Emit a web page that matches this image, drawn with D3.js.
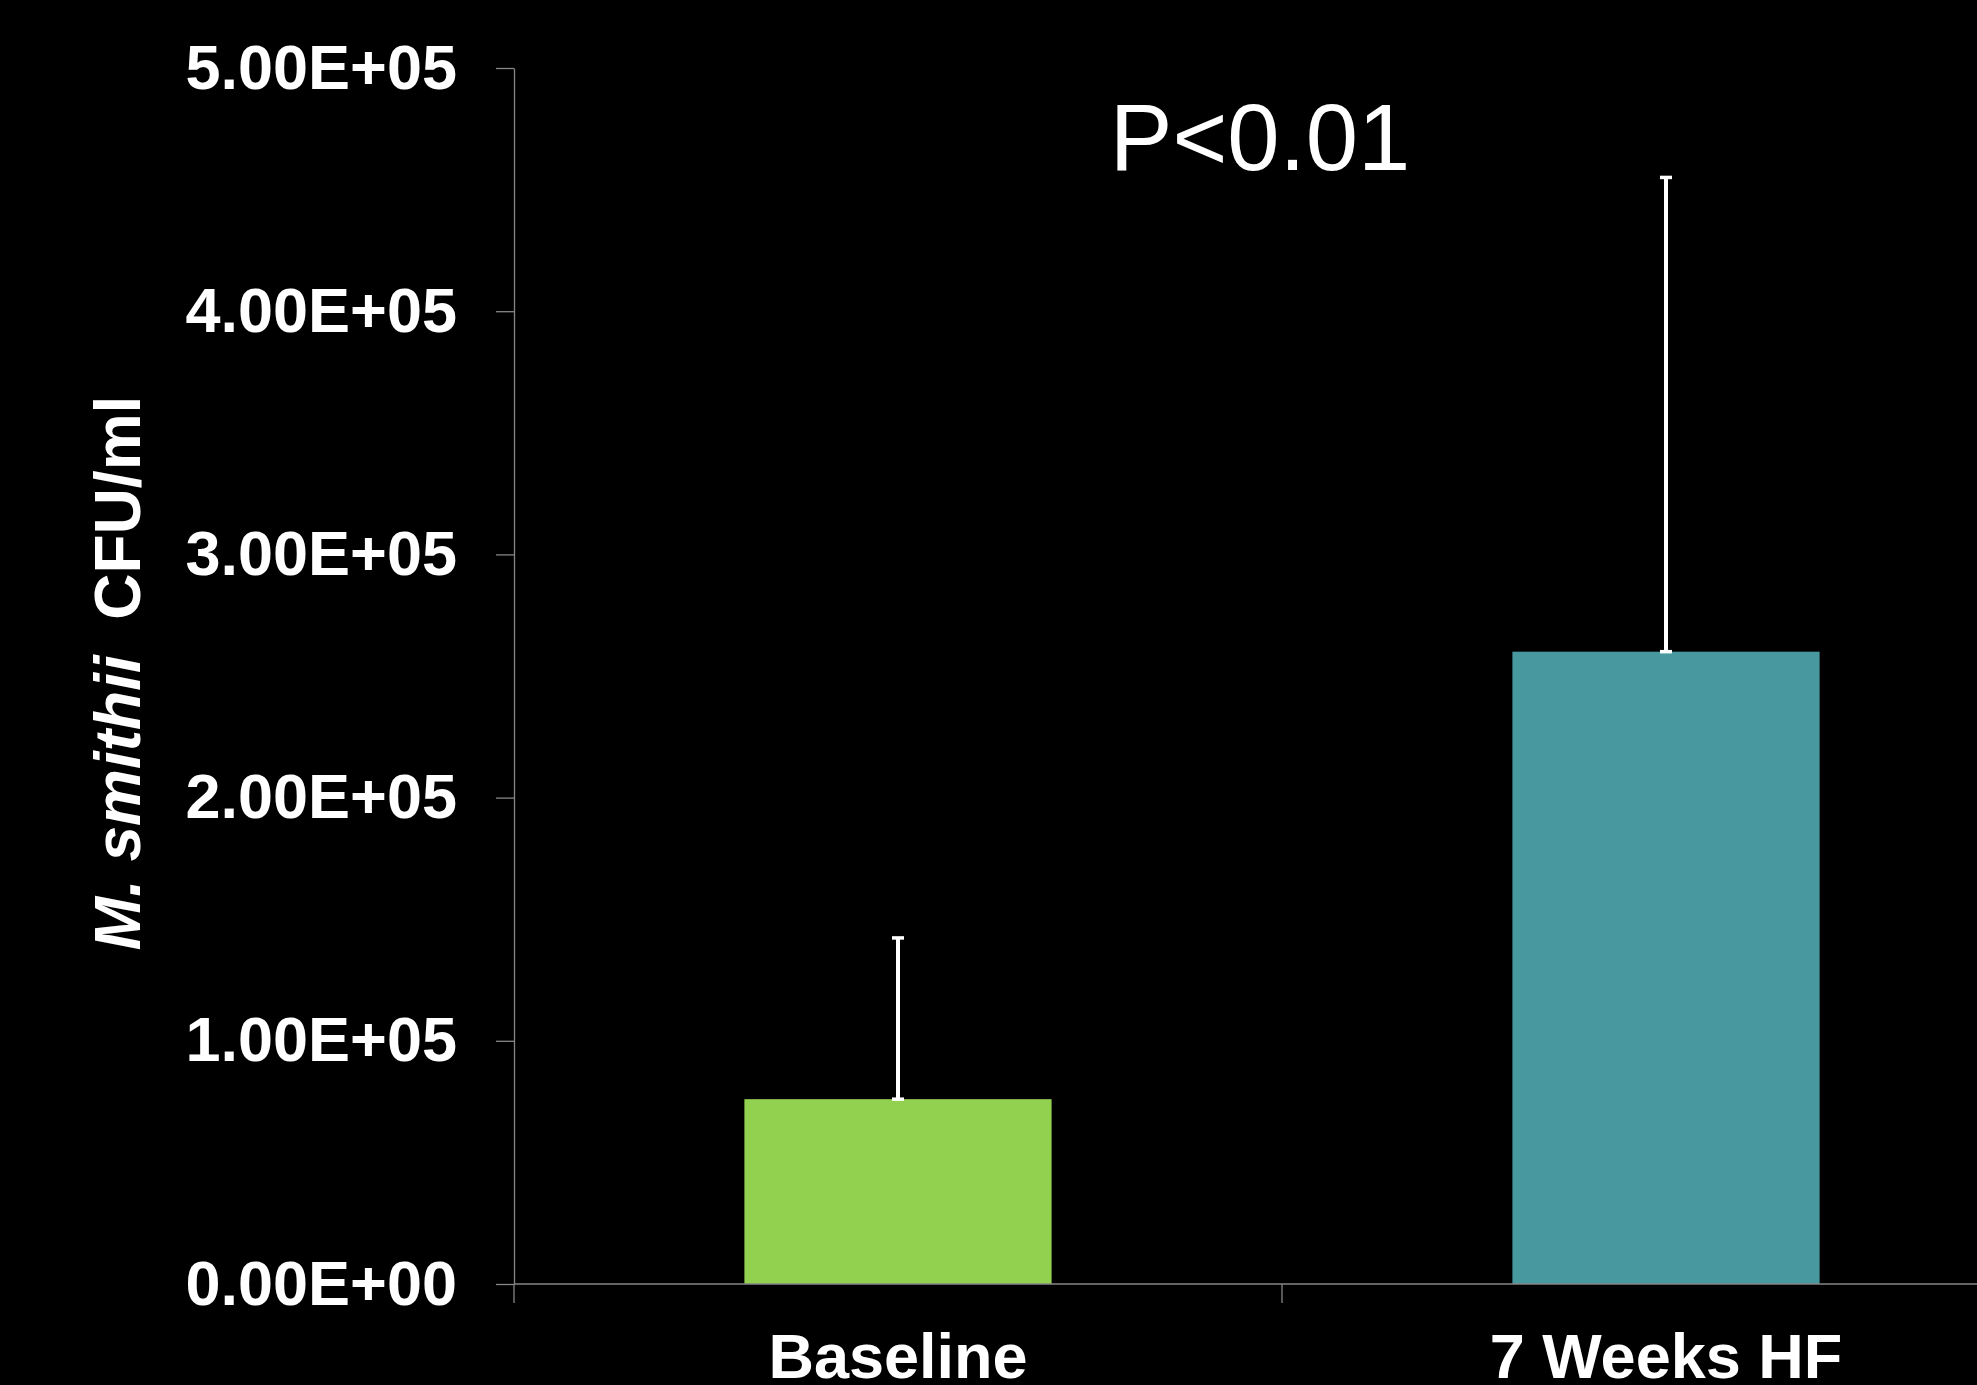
<!DOCTYPE html>
<html>
<head>
<meta charset="utf-8">
<script src="https://cdn.jsdelivr.net/npm/d3@7/dist/d3.min.js"></script>
<style>
  html, body { margin: 0; padding: 0; background: #000; }
  svg { display: block; }
</style>
</head>
<body>
<svg id="chart" width="1977" height="1385"></svg>
<script>
// ---- data ----
const categories = ["Baseline", "7 Weeks HF"];
const means = [76000, 260000];
const errors = [66300, 195000];
const barColors = ["#92D050", "#47999F"];
const yTicks = [0, 100000, 200000, 300000, 400000, 500000];
const yTickLabels = ["0.00E+00", "1.00E+05", "2.00E+05", "3.00E+05", "4.00E+05", "5.00E+05"];
const pLabel = "P<0.01";

// ---- layout ----
const W = 1977, H = 1385;
const plotLeft = 514, plotTop = 68, plotBottom = 1284, plotRight = 2050;
const svg = d3.select("#chart");
svg.append("rect").attr("width", W).attr("height", H).attr("fill", "#000");

const y = d3.scaleLinear().domain([0, 500000]).range([plotBottom, plotTop]);
const x = d3.scaleBand().domain(categories).range([plotLeft, plotRight])
  .paddingInner(0.6).paddingOuter(0.3);

const FONT = "'Liberation Sans', Arial, Helvetica, sans-serif";
const axisColor = "#868686";

// bars
svg.selectAll("rect.bar").data(categories).enter().append("rect")
  .attr("class", "bar")
  .attr("x", d => x(d))
  .attr("width", x.bandwidth())
  .attr("y", (d, i) => y(means[i]))
  .attr("height", (d, i) => y(0) - y(means[i]))
  .attr("fill", (d, i) => barColors[i]);

// error bars (upper only)
const eg = svg.append("g").attr("stroke", "#fff").attr("fill", "none");
categories.forEach((c, i) => {
  const cx = x(c) + x.bandwidth() / 2;
  eg.append("line").attr("x1", cx).attr("x2", cx)
    .attr("y1", y(means[i])).attr("y2", y(means[i] + errors[i]))
    .attr("stroke-width", 4);
  [means[i], means[i] + errors[i]].forEach(v => {
    eg.append("line").attr("x1", cx - 6).attr("x2", cx + 6)
      .attr("y1", y(v)).attr("y2", y(v)).attr("stroke-width", 3.5);
  });
});

// y axis
const yAxis = d3.axisLeft(y)
  .tickValues(yTicks)
  .tickFormat((d, i) => yTickLabels[i])
  .tickSize(18)
  .tickSizeOuter(0)
  .tickPadding(39);
const gy = svg.append("g").attr("transform", `translate(${plotLeft},0)`).call(yAxis);
gy.select(".domain").attr("stroke", axisColor).attr("stroke-width", 1.3);
gy.selectAll(".tick line").attr("stroke", axisColor).attr("stroke-width", 1.3);
gy.selectAll(".tick text")
  .attr("fill", "#fff")
  .attr("font-family", FONT)
  .attr("font-weight", "bold")
  .attr("font-size", 63)
  .attr("dy", "0.32em");

// x axis line and category boundary ticks
svg.append("line").attr("x1", plotLeft).attr("x2", plotRight)
  .attr("y1", y(0)).attr("y2", y(0))
  .attr("stroke", axisColor).attr("stroke-width", 1.3);
d3.range(categories.length + 1).forEach(k => {
  const bx = plotLeft + k * x.step();
  svg.append("line").attr("x1", bx).attr("x2", bx)
    .attr("y1", y(0)).attr("y2", y(0) + 19)
    .attr("stroke", axisColor).attr("stroke-width", 1.3);
});

// x labels
svg.selectAll("text.xl").data(categories).enter().append("text")
  .attr("class", "xl")
  .attr("x", d => x(d) + x.bandwidth() / 2)
  .attr("y", 1378)
  .attr("text-anchor", "middle")
  .attr("fill", "#fff")
  .attr("font-family", FONT)
  .attr("font-weight", "bold")
  .attr("font-size", 63)
  .text(d => d);

// y axis title
const yt = svg.append("text")
  .attr("transform", `translate(140, 673) rotate(-90)`)
  .attr("text-anchor", "middle")
  .attr("fill", "#fff")
  .attr("font-family", FONT)
  .attr("font-weight", "bold")
  .attr("font-size", 64);
yt.append("tspan").attr("font-style", "italic").text("M. smithii");
yt.append("tspan").text("\u00A0 CFU/ml");

// p-value
svg.append("text")
  .attr("x", 1260)
  .attr("y", 170)
  .attr("text-anchor", "middle")
  .attr("fill", "#fff")
  .attr("font-family", FONT)
  .attr("font-size", 94)
  .text(pLabel);
</script>
</body>
</html>
